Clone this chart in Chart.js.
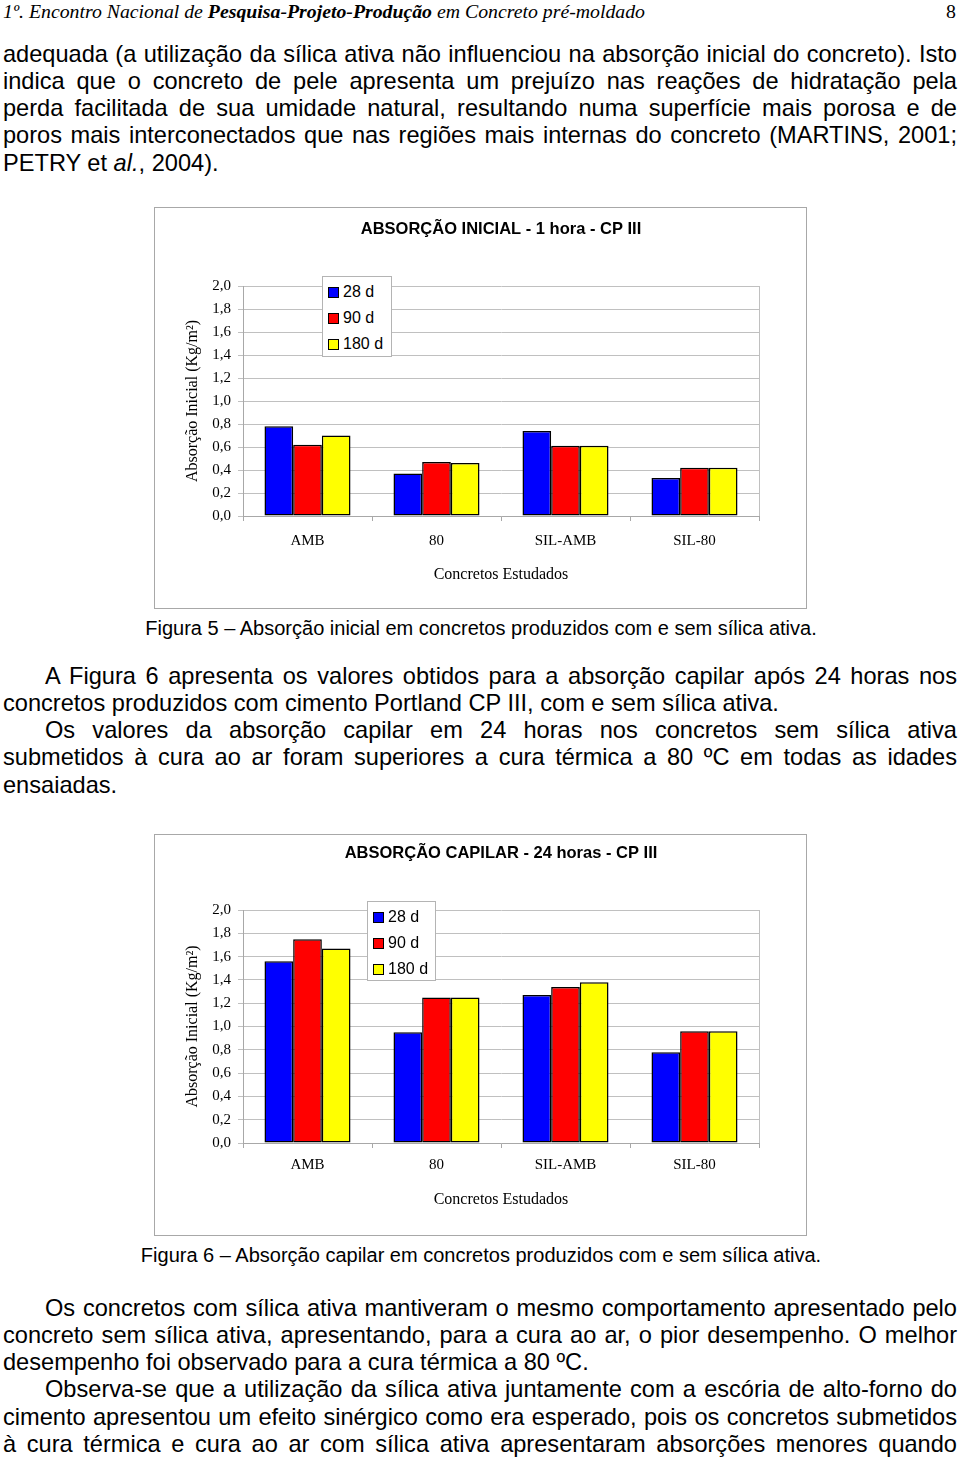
<!DOCTYPE html>
<html lang="pt">
<head>
<meta charset="utf-8">
<title>Absorção inicial e capilar - CP III</title>
<script src="https://cdn.jsdelivr.net/npm/chart.js@4.4.1/dist/chart.umd.min.js"></script>
<style>
  html, body { margin: 0; padding: 0; background: #fff; }
  body { width: 960px; height: 1459px; position: relative; overflow: hidden;
         font-family: "Liberation Sans", Arial, sans-serif; color: #000; }
  .hdr { position: absolute; top: 0; left: 3px; font-family: "Liberation Serif", "Times New Roman", serif;
         font-style: italic; font-size: 19.8px; line-height: 22px; white-space: nowrap; }
  .pg { position: absolute; top: 0; right: 4px; font-family: "Liberation Serif", "Times New Roman", serif;
        font-size: 19.8px; line-height: 22px; }
  .ln { position: absolute; left: 3px; width: 954px; font-size: 23.6px; line-height: 27px; white-space: nowrap; }
  .ln.j { text-align: justify; text-align-last: justify; white-space: normal; }
  .ln.ind { left: 45px; width: 912px; }
  .cap { position: absolute; left: 0; width: 962px; text-align: center; font-size: 20px; line-height: 24px; }
  .box { position: absolute; left: 154px; width: 651px; height: 400px; border: 1px solid #a8a8a8; }
  .box canvas { position: absolute; left: 0; top: 0; }
  .legend { position: absolute; box-sizing: border-box; padding-top: 2px; background: #fff;
            border: 1px solid #b4b4b4; font-size: 16px; }
  .lg-row { position: relative; height: 26px; line-height: 26px; padding-left: 20px; white-space: nowrap; }
  .sw { position: absolute; left: 5px; top: 8px; width: 11px; height: 11px; box-sizing: border-box; border: 1px solid #000; }
</style>
</head>
<body>

<div class="hdr">1º. Encontro Nacional de <b>Pesquisa-Projeto-Produção</b> em Concreto pré-moldado</div>
<div class="pg">8</div>

<div class="ln j" style="top:40.5px">adequada (a utilização da sílica ativa não influenciou na absorção inicial do concreto). Isto</div>
<div class="ln j" style="top:67.8px">indica que o concreto de pele apresenta um prejuízo nas reações de hidratação pela</div>
<div class="ln j" style="top:95.1px">perda facilitada de sua umidade natural, resultando numa superfície mais porosa e de</div>
<div class="ln j" style="top:122.4px">poros mais interconectados que nas regiões mais internas do concreto (MARTINS, 2001;</div>
<div class="ln" style="top:149.7px">PETRY et <i>al.</i>, 2004).</div>

<div class="box" style="top:207px"><canvas id="chartInicial" width="651" height="400"></canvas></div>
<div class="legend" id="legendInicial" style="left:322px; top:276px; width:70px; height:81px"></div>
<div class="cap" style="top:616px">Figura 5 – Absorção inicial em concretos produzidos com e sem sílica ativa.</div>

<div class="ln j ind" style="top:662.5px">A Figura 6 apresenta os valores obtidos para a absorção capilar após 24 horas nos</div>
<div class="ln" style="top:689.8px">concretos produzidos com cimento Portland CP III, com e sem sílica ativa.</div>
<div class="ln j ind" style="top:717.1px">Os valores da absorção capilar em 24 horas nos concretos sem sílica ativa</div>
<div class="ln j" style="top:744.4px">submetidos à cura ao ar foram superiores a cura térmica a 80 ºC em todas as idades</div>
<div class="ln" style="top:771.7px">ensaiadas.</div>

<div class="box" style="top:834px"><canvas id="chartCapilar" width="651" height="400"></canvas></div>
<div class="legend" id="legendCapilar" style="left:367px; top:901px; width:69px; height:80px"></div>
<div class="cap" style="top:1243px">Figura 6 – Absorção capilar em concretos produzidos com e sem sílica ativa.</div>

<div class="ln j ind" style="top:1294.5px">Os concretos com sílica ativa mantiveram o mesmo comportamento apresentado pelo</div>
<div class="ln j" style="top:1321.8px">concreto sem sílica ativa, apresentando, para a cura ao ar, o pior desempenho. O melhor</div>
<div class="ln" style="top:1349.1px">desempenho foi observado para a cura térmica a 80 ºC.</div>
<div class="ln j ind" style="top:1376.4px">Observa-se que a utilização da sílica ativa juntamente com a escória de alto-forno do</div>
<div class="ln j" style="top:1403.7px">cimento apresentou um efeito sinérgico como era esperado, pois os concretos submetidos</div>
<div class="ln j" style="top:1431px">à cura térmica e cura ao ar com sílica ativa apresentaram absorções menores quando</div>

<script>
// concretos estudados (eixo x)
const categories = ['AMB', '80', 'SIL-AMB', 'SIL-80'];

// idades de ensaio
const seriesLabels = ['28 d', '90 d', '180 d'];
const seriesColors = ['#0000ff', '#ff0000', '#ffff00'];

// Figura 5 - absorcao inicial, 1 hora (kg/m2)
const inicial28 = [0.78, 0.37, 0.74, 0.33];
const inicial90 = [0.62, 0.47, 0.61, 0.42];
const inicial180 = [0.70, 0.46, 0.61, 0.42];

// Figura 6 - absorcao capilar, 24 horas (kg/m2)
const capilar28 = [1.56, 0.95, 1.27, 0.78];
const capilar90 = [1.75, 1.25, 1.34, 0.96];
const capilar180 = [1.67, 1.25, 1.38, 0.96];

// rotulos do eixo y (virgula decimal)
const yTickLabels = ['0,0', '0,2', '0,4', '0,6', '0,8', '1,0', '1,2', '1,4', '1,6', '1,8', '2,0'];

const serif = '"Liberation Serif", "Times New Roman", serif';
const sans = '"Liberation Sans", Arial, sans-serif';

// linha vertical na borda direita da area do grafico
const plotEdge = {
    id: 'plotEdge',
    beforeDatasetsDraw(chart) {
        const {ctx, chartArea} = chart;
        const x = Math.round(chartArea.right) + 0.5;
        ctx.save();
        ctx.strokeStyle = '#c0c0c0';
        ctx.lineWidth = 1;
        ctx.beginPath();
        ctx.moveTo(x, chartArea.top);
        ctx.lineTo(x, chartArea.bottom);
        ctx.stroke();
        ctx.restore();
    }
};

function buildLegend(el) {
    seriesLabels.forEach((lab, i) => {
        const row = document.createElement('div');
        row.className = 'lg-row';
        const sw = document.createElement('span');
        sw.className = 'sw';
        sw.style.background = seriesColors[i];
        row.appendChild(sw);
        row.appendChild(document.createTextNode(lab));
        el.appendChild(row);
    });
}

function makeChart(canvasId, legendId, values, opt) {
    const datasets = values.map((data, i) => ({
        label: seriesLabels[i],
        data: data,
        backgroundColor: seriesColors[i],
        borderColor: '#000',
        borderWidth: 1.5,
        borderSkipped: false,
        categoryPercentage: 0.667,
        barPercentage: 1.0
    }));

    new Chart(document.getElementById(canvasId), {
        type: 'bar',
        data: { labels: categories, datasets: datasets },
        plugins: [plotEdge],
        options: {
            responsive: false,
            animation: false,
            layout: { padding: { left: 0, right: 47, top: 0, bottom: 0 } },
            plugins: {
                legend: { display: false },
                tooltip: { enabled: false },
                title: {
                    display: true,
                    text: opt.title,
                    fullSize: false,
                    color: '#000',
                    font: { family: sans, size: 16.5, weight: 'bold', lineHeight: 1.2 },
                    padding: { top: opt.titleTop, bottom: opt.titleBottom }
                }
            },
            scales: {
                x: {
                    ticks: { padding: opt.tickPad, color: '#000', font: { family: serif, size: 15 } },
                    grid: { drawOnChartArea: false, tickLength: 5, color: '#a8a8a8', offset: true },
                    border: { color: '#a8a8a8' },
                    title: {
                        display: true,
                        text: 'Concretos Estudados',
                        color: '#000',
                        font: { family: serif, size: 16, lineHeight: 1.2 },
                        padding: { top: 0, bottom: opt.xTitlePad }
                    },
                    afterFit(scale) { scale.height = 92; }
                },
                y: {
                    min: 0,
                    max: 2,
                    ticks: {
                        stepSize: 0.2,
                        padding: 7,
                        color: '#000',
                        font: { family: serif, size: 15 },
                        callback: (v, i) => yTickLabels[i] !== undefined ? yTickLabels[i] : v
                    },
                    grid: { color: '#c0c0c0', tickLength: 5 },
                    border: { color: '#a8a8a8' },
                    title: {
                        display: true,
                        text: 'Absorção Inicial (Kg/m²)',
                        color: '#000',
                        font: { family: serif, size: 16, lineHeight: 1.2 },
                        padding: { top: 28.4, bottom: 0 }
                    },
                    afterFit(scale) { scale.width = 88; }
                }
            }
        }
    });

    buildLegend(document.getElementById(legendId));
}

makeChart('chartInicial', 'legendInicial', [inicial28, inicial90, inicial180], {
    title: 'ABSORÇÃO INICIAL - 1 hora - CP III',
    titleTop: 11.1, titleBottom: 47.1, tickPad: 11, xTitlePad: 23.4
});

makeChart('chartCapilar', 'legendCapilar', [capilar28, capilar90, capilar180], {
    title: 'ABSORÇÃO CAPILAR - 24 horas - CP III',
    titleTop: 8.1, titleBottom: 47.1, tickPad: 8, xTitlePad: 25.4
});
</script>
</body>
</html>
